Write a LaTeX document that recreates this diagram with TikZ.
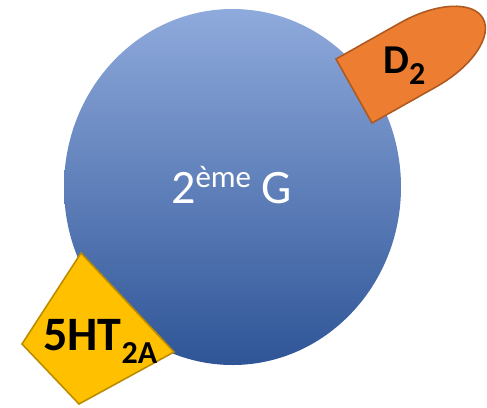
\documentclass[tikz,border=0pt]{standalone}
\usepackage{fontspec}
\setmainfont{Carlito}
\definecolor{ballTop}{HTML}{8FAADC}
\definecolor{ballMid}{HTML}{4472C4}
\definecolor{ballBot}{HTML}{2F5597}
\definecolor{dFill}{HTML}{ED7D31}
\definecolor{dLine}{HTML}{AE5A21}
\definecolor{hFill}{HTML}{FFC000}
\definecolor{hLine}{HTML}{BC8C00}
\tikzset{
  ball/.style={top color=ballTop, middle color=ballMid, bottom color=ballBot},
  receptor/.style={line width=1.6pt, line join=miter},
  lbl/.style={inner sep=0pt, anchor=base west},
}
\begin{document}
\begin{tikzpicture}[x=1pt, y=-1pt]
\useasboundingbox (0,0) rectangle (487,407);

% the G protein
\shade[ball] (232.5,187) ellipse [x radius=168.5, y radius=178];
\node[lbl, text=white, font=\fontsize{48}{48}\selectfont] (g) at (171,203)
  {2\raisebox{16pt}{\fontsize{31}{31}\selectfont ème} G};

% D2 receptor: delay-shaped tab
\begin{scope}[shift={(354,91)}, rotate=29.4]
  \draw[receptor, fill=dFill, draw=dLine]
    (0,-36.7) -- (74,-36.7)
    .. controls (114.9,-36.7) and (148,-20.3) .. (148,0)
    .. controls (148,20.3) and (114.9,36.7) .. (74,36.7)
    -- (0,36.7) -- cycle;
\end{scope}
\node[lbl, font=\bfseries\fontsize{41}{41}\selectfont] (d2) at (383,73)
  {D\raisebox{-11pt}{\fontsize{32}{32}\selectfont 2}};

% 5-HT2A receptor: tilted square
\draw[receptor, fill=hFill, draw=hLine]
  (81,253) coordinate (h1) -- (174,352) coordinate (h2)
  -- (79,404) coordinate (h3) -- (22,344) coordinate (h4) -- cycle;
\node[lbl, font=\bfseries\fontsize{48}{48}\selectfont] (ht) at (43,350)
  {5HT\raisebox{-13pt}{\fontsize{32}{32}\selectfont 2A}};
\end{tikzpicture}
\end{document}
